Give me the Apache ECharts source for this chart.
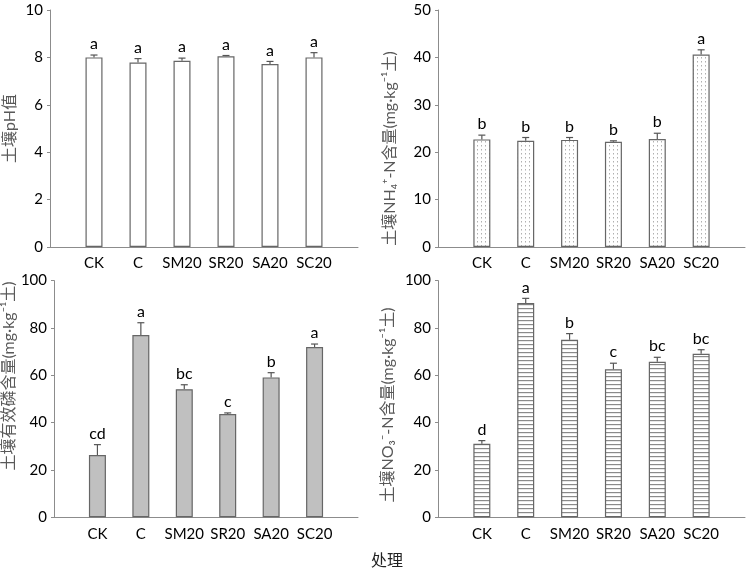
<!DOCTYPE html>
<html><head><meta charset="utf-8">
<script src="https://cdn.jsdelivr.net/npm/echarts@6/dist/echarts.min.js"></script>
<style>html,body{margin:0;padding:0;background:#fff}#c{width:748px;height:570px}</style>
</head><body><div id="c"></div>
<script>
const categories = ['CK', 'C', 'SM20', 'SR20', 'SA20', 'SC20'];
const phMean = [8.0, 7.78, 7.86, 8.05, 7.72, 8.0];
const phErr = [0.1, 0.17, 0.11, 0.03, 0.11, 0.2];
const phSig = ['a', 'a', 'a', 'a', 'a', 'a'];
const nh4Mean = [22.7, 22.4, 22.6, 22.2, 22.8, 40.6];
const nh4Err = [0.9, 0.7, 0.5, 0.2, 1.2, 1.0];
const nh4Sig = ['b', 'b', 'b', 'b', 'b', 'a'];
const apMean = [26.3, 77.0, 54.1, 43.6, 59.1, 71.9];
const apErr = [4.4, 5.2, 1.9, 0.5, 2.0, 1.3];
const apSig = ['cd', 'a', 'bc', 'c', 'b', 'a'];
const no3Mean = [31.1, 90.5, 75.0, 62.5, 65.7, 69.1];
const no3Err = [1.3, 2.0, 2.6, 2.6, 1.9, 1.7];
const no3Sig = ['d', 'a', 'b', 'c', 'bc', 'bc'];
const yTicksTop = { ph: [0, 10, 2], nh4: [0, 50, 10] };
const yTicksBottom = { ap: [0, 100, 20], no3: [0, 100, 20] };
const yNames = ['土壤pH值', '土壤NH₄⁺-N含量(mg·kg⁻¹土)', '土壤有效磷含量(mg·kg⁻¹土)', '土壤NO₃⁻-N含量(mg·kg⁻¹土)'];
const xTitle = '处理';

function makePattern(kind) {
  const cv = document.createElement('canvas');
  const ctx = cv.getContext('2d');
  cv.width = 4; cv.height = 4;
  ctx.fillStyle = '#fff'; ctx.fillRect(0, 0, 4, 4);
  if (kind === 'dots') {
    ctx.fillStyle = '#b0b0b0'; ctx.fillRect(1, 1, 1, 1.5);
  } else {
    ctx.fillStyle = '#8a8a8a'; ctx.fillRect(0, 0, 4, 1.2);
  }
  return { image: cv, repeat: 'repeat' };
}

const fills = ['#ffffff', makePattern('dots'), '#c0c0c0', makePattern('stripes')];
const means = [phMean, nh4Mean, apMean, no3Mean];
const errs = [phErr, nh4Err, apErr, no3Err];
const sigs = [phSig, nh4Sig, apSig, no3Sig];
const ranges = [yTicksTop.ph, yTicksTop.nh4, yTicksBottom.ap, yTicksBottom.no3];
const axisCats = [''].concat(categories, ['']);

const grids = [
  { left: 50, top: 10, width: 308, height: 237 },
  { left: 438, top: 10, width: 308, height: 237 },
  { left: 50, top: 280.6, width: 308, height: 236.7 },
  { left: 438, top: 280.6, width: 308, height: 236.7 }
];
const nameGaps = [32, 40, 32, 42];
const namePads = [[0, 0, 0, 0], [0, 40, 0, 0], [0, 0, 0, 46], [0, 12, 0, 0]];

const xAxes = [], yAxes = [], series = [];
for (let g = 0; g < 4; g++) {
  xAxes.push({
    gridIndex: g, type: 'category', data: axisCats, boundaryGap: false,
    axisLine: { lineStyle: { color: '#8c8c8c', width: 1 } },
    axisTick: { show: false },
    axisLabel: { interval: 0, color: '#000', fontFamily: 'Lato', fontSize: 15, margin: 9 }
  });
  yAxes.push({
    gridIndex: g, type: 'value', min: ranges[g][0], max: ranges[g][1], interval: ranges[g][2],
    splitLine: { show: false },
    axisLine: { show: true, lineStyle: { color: '#8c8c8c', width: 1 } },
    axisTick: { show: true, length: 3, lineStyle: { color: '#8c8c8c' } },
    axisLabel: { color: '#000', fontFamily: 'Lato', fontSize: 15, margin: 7 },
    name: yNames[g], nameLocation: 'middle', nameRotate: 90, nameGap: nameGaps[g],
    nameTextStyle: { color: '#595959', fontSize: 16, fontFamily: 'Lato, "Noto Sans CJK SC"', padding: namePads[g] }
  });
  const m = means[g], e = errs[g], s = sigs[g];
  series.push({
    type: 'bar', xAxisIndex: g, yAxisIndex: g, barWidth: 17,
    data: [null].concat(m, [null]),
    itemStyle: { color: fills[g], borderColor: '#666', borderWidth: 1.2 },
    silent: true, animation: false
  });
  series.push({
    type: 'custom', xAxisIndex: g, yAxisIndex: g, animation: false, silent: true,
    data: m.map((v, i) => [i + 1, v, v + e[i]]),
    renderItem: function (params, api) {
      const x = api.value(0);
      const p0 = api.coord([x, api.value(1)]);
      const p1 = api.coord([x, api.value(2)]);
      const lbl = s[params.dataIndex];
      return {
        type: 'group', children: [
          { type: 'line', shape: { x1: p0[0], y1: p0[1], x2: p1[0], y2: p1[1] }, style: { stroke: '#555', lineWidth: 1.2 } },
          { type: 'line', shape: { x1: p1[0] - 3.5, y1: p1[1], x2: p1[0] + 3.5, y2: p1[1] }, style: { stroke: '#555', lineWidth: 1.2 } },
          { type: 'text', style: { text: lbl, x: p1[0], y: p1[1] - 3, textAlign: 'center', textVerticalAlign: 'bottom', fill: '#000', font: '16px Lato' } }
        ]
      };
    }
  });
}

const chart = echarts.init(document.getElementById('c'), null, { renderer: 'canvas' });
chart.setOption({
  animation: false,
  grid: grids,
  xAxis: xAxes,
  yAxis: yAxes,
  series: series,
  graphic: [{ type: 'text', left: 371, top: 552, style: { text: xTitle, fill: '#222', font: '16px "Noto Sans CJK SC"' } }]
});
</script></body></html>
